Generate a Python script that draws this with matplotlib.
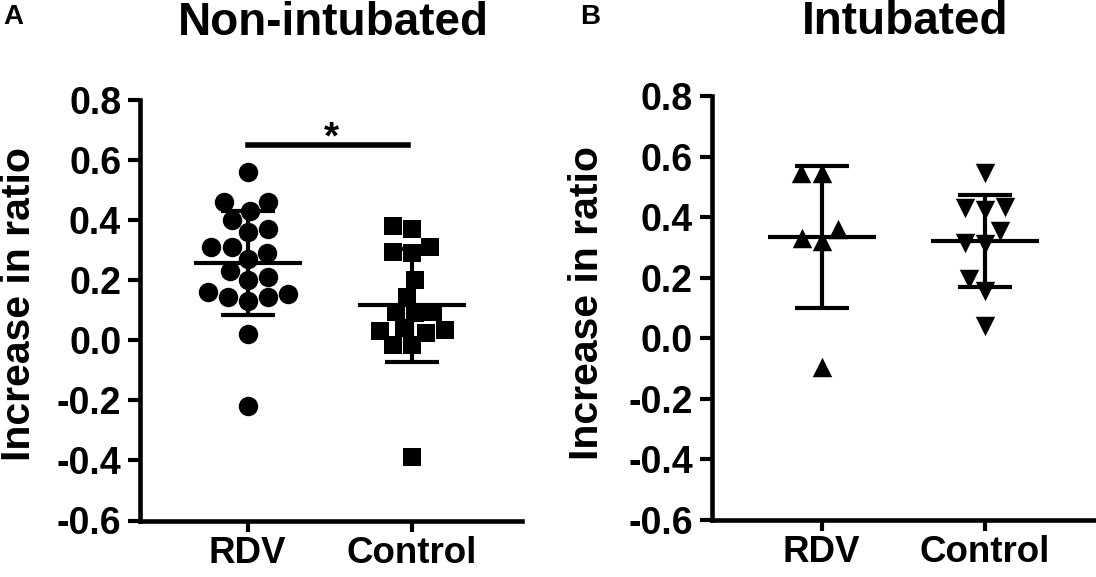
import numpy as np
import matplotlib
matplotlib.use("Agg")
import matplotlib.pyplot as plt
import seaborn as sns

# categories / values
groups = ["RDV", "Control"]
rdv_nonint = [0.56, 0.46, 0.46, 0.43, 0.40, 0.36, 0.37, 0.31, 0.31, 0.27, 0.29,
              0.23, 0.21, 0.20, 0.16, 0.145, 0.13, 0.145, 0.155, 0.02, -0.22]
ctrl_nonint = [0.38, 0.37, 0.31, 0.29, 0.295, 0.20, 0.145, 0.095, 0.09, 0.095,
               0.04, 0.03, 0.035, 0.025, -0.015, -0.015, -0.39]
rdv_int = [0.545, 0.545, 0.33, 0.32, 0.36, -0.095]
ctrl_int = [0.545, 0.425, 0.43, 0.435, 0.355, 0.31, 0.315, 0.195, 0.155, 0.04]
ytick_vals = [-0.6, -0.4, -0.2, 0.0, 0.2, 0.4, 0.6, 0.8]
ytick_labels = ["-0.6", "-0.4", "-0.2", "0.0", "0.2", "0.4", "0.6", "0.8"]

plt.rcParams["font.family"] = ["Liberation Sans", "DejaVu Sans"]
plt.rcParams["font.weight"] = "bold"

W, H = 1096, 577
fig = plt.figure(figsize=(W / 100, H / 100), dpi=100)
ax_a = fig.add_axes([140 / W, 1 - 520.5 / H, 382 / W, 420.5 / H])
ax_b = fig.add_axes([711.7 / W, 1 - 520 / H, 383.3 / W, 424 / H])


def draw_panel(ax, data, markers, sizes, xlim):
    for i, (vals, m, s) in enumerate(zip(data, markers, sizes)):
        sns.swarmplot(x=[groups[i]] * len(vals), y=vals, order=groups, marker=m,
                      size=s, color="black", linewidth=0, ax=ax, zorder=2)
        # mean +/- SD
        mean = np.mean(vals)
        sd = np.std(vals, ddof=1)
        ax.hlines(mean, i - 0.33, i + 0.33, color="black", lw=3, zorder=3)
        ax.hlines([mean - sd, mean + sd], i - 0.165, i + 0.165, color="black", lw=3, zorder=3)
        ax.vlines(i, mean - sd, mean + sd, color="black", lw=3, zorder=3)
    ax.set_xlim(xlim)
    ax.set_ylim(-0.6, 0.8)
    ax.set_yticks(ytick_vals)
    ax.set_yticklabels(ytick_labels)
    ax.set_xticks([0, 1])
    ax.set_xticklabels(groups)
    ax.set_xlabel("")
    ax.set_ylabel("")
    ax.spines[["top", "right"]].set_visible(False)
    for sp in ["left", "bottom"]:
        ax.spines[sp].set_linewidth(3.3)
    ax.tick_params(axis="y", length=9, width=3, labelsize=27, pad=4.5)
    ax.tick_params(axis="x", length=8, width=3, labelsize=26.5, pad=3)


draw_panel(ax_a, [rdv_nonint, ctrl_nonint], ["o", "s"], [14, 13], (-0.657, 1.673))
draw_panel(ax_b, [rdv_int, ctrl_int], ["^", "v"], [14, 14], (-0.674, 1.674))

# significance bar
ax_a.plot([0, 0.975], [0.65, 0.65], color="black", lw=4, clip_on=False)
ax_a.text(0.51, 0.637, "*", fontsize=28, ha="center", va="baseline")

fig.text(19 / W, 1 - 304 / H, "Increase in ratio", rotation=90, fontsize=29.5,
         ha="center", va="center")
fig.text(587.5 / W, 1 - 303 / H, "Increase in ratio", rotation=90, fontsize=29.5,
         ha="center", va="center")
fig.text(333.8 / W, 1 - 35 / H, "Non-intubated", fontsize=33, ha="center", va="baseline")
fig.text(905 / W, 1 - 34.3 / H, "Intubated", fontsize=33, ha="center", va="baseline")
fig.text(3.3 / W, 1 - 24 / H, "A", fontsize=20, ha="left", va="baseline")
fig.text(580 / W, 1 - 24 / H, "B", fontsize=20, ha="left", va="baseline")

fig.savefig("out.png", dpi=100)
